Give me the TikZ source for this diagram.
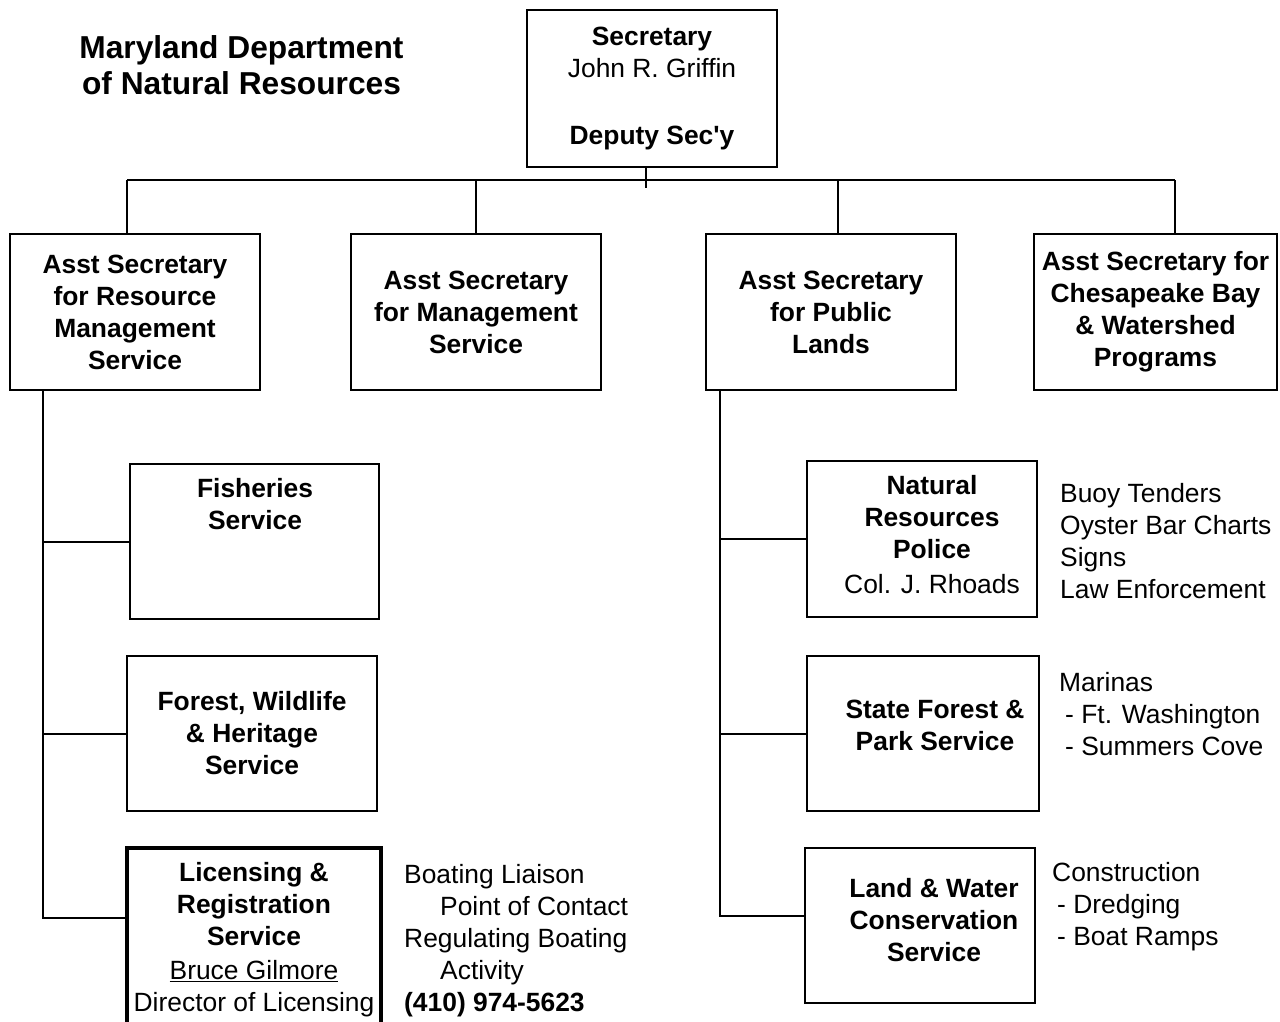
\documentclass[tikz,border=0pt]{standalone}
\usepackage{fontspec}
\setmainfont{Liberation Sans}[Ligatures=TeXOff]

\tikzset{
  unit/.style={draw, line width=2pt, inner sep=0pt, align=center, font=\bfseries\fontsize{26.4}{32}\selectfont},
  boxtext/.style={inner sep=0pt, align=center, font=\bfseries\fontsize{26.4}{32}\selectfont},
  notes/.style={inner sep=0pt, align=left, anchor=north west, font=\fontsize{26.4}{32}\selectfont},
  wire/.style={line width=2pt}
}

\begin{document}
\begin{tikzpicture}[x=1pt,y=1pt,yscale=-1]
\useasboundingbox (0,0) rectangle (1280,1022);
\clip (0,0) rectangle (1280,1022);

% Title
\node[boxtext, font=\bfseries\fontsize{31.7}{36}\selectfont] (title) at (241.5,65) {Maryland Department\\of Natural Resources};

% Secretary
\node[unit, minimum width=250, minimum height=157] (sec) at (652,88.5) {Secretary\\{\mdseries John R. Griffin}\\[35pt]Deputy Sec'y};

% Asst secretaries
\node[unit, minimum width=250, minimum height=156] (rm) at (135,312) {Asst Secretary\\for Resource\\Management\\Service};
\node[unit, minimum width=250, minimum height=156] (ms) at (476,312) {Asst Secretary\\for Management\\Service};
\node[unit, minimum width=250, minimum height=156] (pl) at (831,312) {Asst Secretary\\for Public\\Lands};
\node[unit, minimum width=243, minimum height=156] (cb) at (1155.5,312) {Asst Secretary for\\Chesapeake Bay\\\& Watershed\\Programs};

%Straight Lines: bus
\coordinate (hub) at (646,188);
\coordinate (b1) at (127,180);
\coordinate (b2) at (476,180);
\coordinate (b3) at (838,180);
\coordinate (b4) at (1175,180);
\draw[wire] (hub |- sec.south) -- (hub);
\draw[wire] (b1) -- (b4);
\foreach \b/\n in {b1/rm,b2/ms,b3/pl,b4/cb}
  \draw[wire] (\b) -- (\b |- \n.north);

% Resource Management units
\node[unit, minimum width=249, minimum height=155] (fish) at (254.5,541.5) {};
\node[boxtext] (fishtxt) at (255,504) {Fisheries\\Service};
\node[unit, minimum width=250, minimum height=155] (forest) at (252,733.5) {Forest, Wildlife\\\& Heritage\\Service};
\node[unit, line width=4.5pt, minimum width=254, minimum height=184] (lic) at (254,940) {Licensing \&\\Registration\\Service\\[2pt]{\mdseries\underline{Bruce Gilmore}}\\{\mdseries Director of Licensing}};
% Text Node
\node[notes] (licnote) at (404,864) {Boating Liaison\\\hspace*{36pt}Point of Contact\\Regulating Boating\\\hspace*{36pt}Activity\\\textbf{(410) 974-5623}};

% Public Lands units
\node[unit, minimum width=230, minimum height=156] (nrp) at (922,539) {};
\node[boxtext] (nrptxt) at (932,534.5) {Natural\\Resources\\Police\\[3pt]{\mdseries Col. J. Rhoads}};
\node[notes] (nrpnote) at (1060,483) {Buoy Tenders\\Oyster Bar Charts\\Signs\\Law Enforcement};
\node[unit, minimum width=232, minimum height=155] (sfp) at (923,733.5) {};
\node[boxtext] (sfptxt) at (935,725) {State Forest \&\\Park Service};
\node[notes] (sfpnote) at (1059,672) {Marinas\\\hspace*{6pt}- Ft. Washington\\\hspace*{6pt}- Summers Cove};
\node[unit, minimum width=230, minimum height=155] (lwc) at (920,925.5) {};
\node[boxtext] (lwctxt) at (934,920) {Land \& Water\\Conservation\\Service};
\node[notes] (lwcnote) at (1052,862) {Construction\\\hspace*{5pt}- Dredging\\\hspace*{5pt}- Boat Ramps};

%Straight Lines: left spine
\coordinate (ls) at (43,918);
\draw[wire] (ls |- rm.south) -- (ls) -- (ls -| lic.west);
\draw[wire] (fish.west) -- (fish.west -| ls);
\draw[wire] (forest.west) -- (forest.west -| ls);

%Straight Lines: right spine
\coordinate (rs) at (720,916);
\draw[wire] (rs |- pl.south) -- (rs) -- (rs -| lwc.west);
\draw[wire] (nrp.west) -- (nrp.west -| rs);
\draw[wire] (sfp.west) -- (sfp.west -| rs);

\end{tikzpicture}
\end{document}
